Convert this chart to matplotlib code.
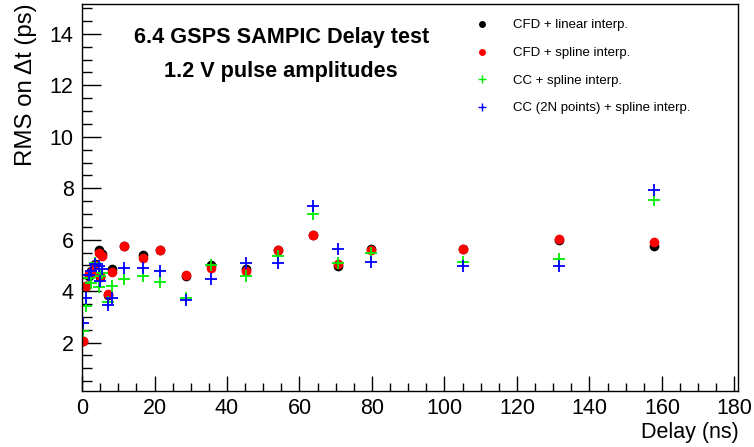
import matplotlib
matplotlib.use("Agg")
import matplotlib.pyplot as plt
from matplotlib.ticker import MultipleLocator
from matplotlib.lines import Line2D

plt.rcParams['font.family'] = ['Liberation Sans', 'DejaVu Sans']

# delay values (ns), shared by the four methods
delay = [0.2, 1.2, 1.8, 2.6, 3.5, 4.6, 5.0, 5.5, 7.2, 8.2, 11.7, 16.8, 21.6,
         28.7, 35.6, 45.2, 54.1, 63.6, 70.5, 79.6, 105.1, 131.7, 157.7]

# RMS on delta t (ps)
cfd_linear = [2.05, 4.2, 4.6, 4.8, 5.05, 5.6, 4.55, 5.45, 3.85, 4.85, 5.75, 5.4, 5.6,
              4.6, 5.0, 4.85, 5.6, 6.2, 4.98, 5.65, 5.65, 6.0, 5.76]
cfd_spline = [2.07, 4.2, 4.65, 4.75, 5.0, 5.5, 4.6, 5.35, 3.9, 4.75, 5.76, 5.27, 5.6,
              4.62, 4.88, 4.8, 5.6, 6.17, 5.05, 5.6, 5.63, 6.02, 5.89]
cc_spline = [2.45, 3.43, 4.5, 4.3, 5.1, 4.15, 4.6, 4.7, 3.56, 4.2, 4.47, 4.6, 4.34,
             3.72, 5.0, 4.6, 5.35, 7.0, 5.1, 5.5, 5.14, 5.24, 7.53]
cc2n_spline = [2.75, 3.72, 4.62, 4.8, 5.07, 4.98, 4.4, 4.85, 3.47, 3.72, 4.9, 4.9, 4.79,
               3.66, 4.47, 5.1, 5.1, 7.3, 5.65, 5.15, 4.96, 4.96, 7.93]

labels = ["CFD + linear interp.", "CFD + spline interp.",
          "CC + spline interp.", "CC (2N points) + spline interp."]

fig = plt.figure(figsize=(7.54, 4.47), dpi=100)
ax = fig.add_axes([0.1088, 0.125, 0.8705, 0.867])

ax.plot(delay, cfd_linear, 'o', color='black', ms=7, mec='none')
ax.plot(delay, cfd_spline, 'o', color='#ff0000', ms=7, mec='none')
ax.plot(delay, cc_spline, '+', color='#00ee00', ms=8, mew=1.3)
ax.plot(delay, cc2n_spline, '+', color='#0000ff', ms=8, mew=1.3)

ax.set_xlim(0, 181.1)
ax.set_ylim(0.11, 15.18)
ax.xaxis.set_major_locator(MultipleLocator(20))
ax.xaxis.set_minor_locator(MultipleLocator(5))
ax.yaxis.set_major_locator(MultipleLocator(2))
ax.yaxis.set_minor_locator(MultipleLocator(0.5))
ax.set_yticks([2, 4, 6, 8, 10, 12, 14])

ax.tick_params(axis='x', which='major', direction='in', length=11, width=1, labelsize=15.5, pad=5)
ax.tick_params(axis='x', which='minor', direction='in', length=6, width=1)
ax.tick_params(axis='y', which='major', direction='in', length=14, width=1, labelsize=15.5, pad=6)
ax.tick_params(axis='y', which='minor', direction='in', length=7, width=1)
for s in ax.spines.values():
    s.set_linewidth(1.0)

ax.set_xlabel("Delay (ns)", fontsize=15.5, loc='right', labelpad=2)
ax.set_ylabel("RMS on \u0394t (ps)", fontsize=17.3, loc='top', labelpad=9)

fig.text(0.374, 0.917, "6.4 GSPS SAMPIC Delay test", fontsize=15.6, fontweight='bold',
         ha='center', va='center')
fig.text(0.372, 0.841, "1.2 V pulse amplitudes", fontsize=15.6, fontweight='bold',
         ha='center', va='center')

handles = [
    Line2D([], [], ls='none', marker='o', color='black', ms=5, mec='none'),
    Line2D([], [], ls='none', marker='o', color='#ff0000', ms=5, mec='none'),
    Line2D([], [], ls='none', marker='+', color='#00ee00', ms=6, mew=1.0),
    Line2D([], [], ls='none', marker='+', color='#0000ff', ms=6, mew=1.0),
]
fig.legend(handles, labels, loc='upper left', bbox_to_anchor=(0.6305, 0.957),
           frameon=False, fontsize=9.5, numpoints=1, handlelength=1.0,
           handletextpad=1.85, labelspacing=1.17, borderpad=0, borderaxespad=0)

fig.savefig("out.png", dpi=100)
